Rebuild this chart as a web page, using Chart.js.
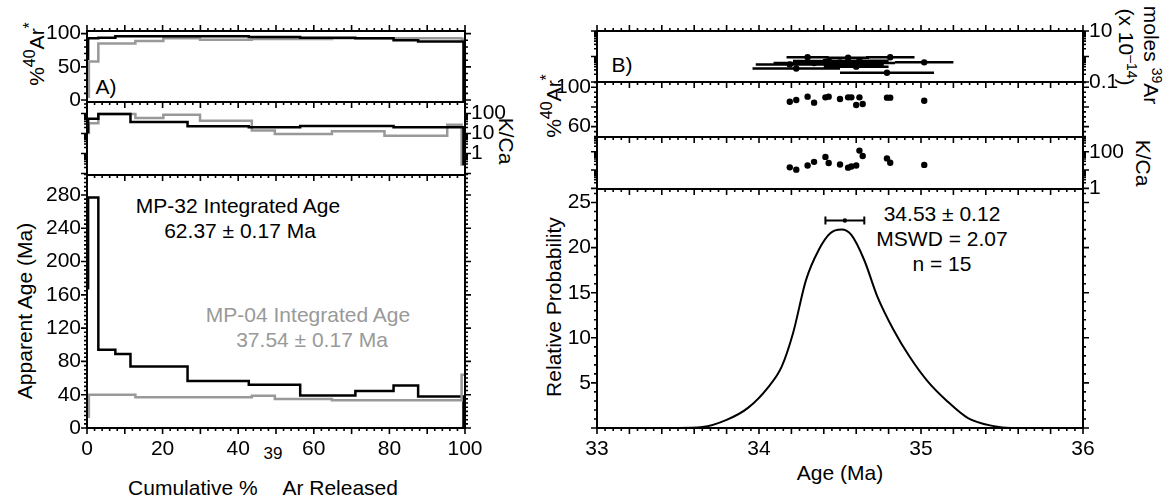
<!DOCTYPE html>
<html>
<head>
<meta charset="utf-8">
<title>40Ar/39Ar results</title>
<script src="https://cdn.jsdelivr.net/npm/chart.js@4.4.1/dist/chart.umd.min.js"></script>
<style>
  body { margin: 0; width: 1168px; height: 499px; background: #fff; position: relative; overflow: hidden;
         font-family: 'Liberation Sans', Arial, sans-serif; color: #000; }
  canvas { position: absolute; }
  .txt { position: absolute; white-space: nowrap; font-size: 21px; line-height: 1; transform: translate(-50%, -50%); }
  .up  { transform: translate(-50%, -50%) rotate(-90deg); }
  .dn  { transform: translate(-50%, -50%) rotate(90deg); }
  .sup { font-size: 16px; position: relative; top: -9px; }
  .sm  { font-size: 14px; position: relative; top: -8px; }
  .gray { color: #999; }
</style>
</head>
<body>

<!-- panel A titles / notes -->
<div class="txt up" style="left:36px;top:54px">%<span class="sup">40</span>Ar<span class="sup">*</span></div>
<div class="txt dn" style="left:506px;top:141px">K/Ca</div>
<div class="txt up" style="left:24px;top:311px">Apparent Age (Ma)</div>
<div class="txt" style="left:263px;top:487px">Cumulative % <span style="font-size:17px;position:relative;top:-36px">39</span>Ar Released</div>
<div class="txt" style="left:106px;top:86px">A)</div>
<div class="txt" style="left:238px;top:205px">MP-32 Integrated Age</div>
<div class="txt" style="left:240px;top:230px">62.37 ± 0.17 Ma</div>
<div class="txt gray" style="left:308px;top:314px">MP-04 Integrated Age</div>
<div class="txt gray" style="left:312px;top:339px">37.54 ± 0.17 Ma</div>

<!-- panel B titles / notes -->
<div class="txt" style="left:622px;top:64px">B)</div>
<div class="txt up" style="left:553px;top:106px">%<span class="sup">40</span>Ar<span class="sup">*</span></div>
<div class="txt dn" style="left:1151px;top:55px">moles <span class="sm">39</span>Ar</div>
<div class="txt dn" style="left:1126px;top:47px">(x 10<span class="sm">–14</span>)</div>
<div class="txt dn" style="left:1143px;top:163px">K/Ca</div>
<div class="txt up" style="left:553px;top:307px">Relative Probability</div>
<div class="txt" style="left:840px;top:472px">Age (Ma)</div>
<div class="txt" style="left:942px;top:213px">34.53 ± 0.12</div>
<div class="txt" style="left:942px;top:238px">MSWD = 2.07</div>
<div class="txt" style="left:942px;top:263px">n = 15</div>

<script>
// ═══════════════════════════════════════════
//  Step-heating spectra (A) and single-crystal ages (B)
// ═══════════════════════════════════════════

// ── A: MP-32 (black) — step edges in cumulative % 39Ar ──
const mp32Edges = [0, 0.3, 3.0, 7.5, 11.5, 26.6, 42.8, 56.4, 71.0, 81.1, 87.6, 99.6, 100];
const mp32Age   = [168, 277, 94, 89, 74, 56.5, 52, 39, 44.5, 51, 37.8, 0];
const mp32Rad   = [62, 93, 94, 96, 96, 96, 95, 94, 93, 90, 88, 0];
const mp32KCa   = [12, 55, 95, 95, 37.6, 23, 20.4, 23.7, 23.7, 20.4, 20.4, 0.3];

// ── A: MP-04 (grey) ──
const mp04Edges = [0, 0.5, 3.0, 12.8, 20.2, 29.9, 43.6, 49.7, 64.8, 78.7, 95.3, 99.1, 100];
const mp04Age   = [13.6, 40, 40, 36.8, 36.8, 36.8, 38.8, 34.8, 33.2, 33.2, 33.2, 64];
const mp04Rad   = [5, 58, 85, 89, 93, 91, 92, 92, 93, 93, 93, 92];
const mp04KCa   = [10.6, 33, 95, 60, 87, 44, 14, 9.4, 13, 7.8, 27.5, 0.28];

const cumLabels = [0, 20, 40, 60, 80, 100];
const radLabelsA = [0, 50, 100];
const kcaLabelsA = [1, 10, 100];
const ageLabels = [0, 40, 80, 120, 160, 200, 240, 280];

// ── B: single crystals ──
const xtlAge   = [34.19, 34.23, 34.30, 34.34, 34.41, 34.43, 34.50, 34.55, 34.57, 34.60, 34.62, 34.64, 34.79, 34.81, 35.02];
const xtlErr   = [0.21, 0.27, 0.13, 0.25, 0.20, 0.22, 0.25, 0.13, 0.20, 0.20, 0.18, 0.20, 0.29, 0.15, 0.18];
const xtlMoles = [0.49, 0.34, 0.93, 0.55, 0.62, 0.67, 0.58, 0.90, 0.50, 0.40, 0.68, 0.55, 0.23, 0.93, 0.59];
const xtlRad   = [85.4, 87.1, 90.5, 84.4, 89.8, 90.5, 88.1, 89.8, 89.8, 82.0, 89.8, 83.1, 89.5, 89.5, 86.4];
const xtlKCa   = [14, 10.5, 17.5, 28, 52, 24, 20, 13.5, 15.5, 17.5, 115, 58, 43, 25, 19];

// probability density curve
const probAge = [33.0, 33.5, 33.65, 33.80, 33.93, 34.06, 34.14, 34.21, 34.29, 34.37, 34.44, 34.51, 34.57,
                 34.65, 34.73, 34.83, 34.93, 35.04, 35.16, 35.29, 35.45, 35.55, 36.0];
const probVal = [0, 0, 0.1, 0.9, 2.2, 4.6, 6.8, 10.5, 16.4, 19.8, 21.6, 22.0, 21.4,
                 18.6, 14.6, 10.9, 7.9, 5.2, 3.0, 1.1, 0.2, 0, 0];

// weighted mean
const meanAge = [34.53];
const meanErr = [0.12];
const meanLevel = [23];

const ageLabelsB = [33, 34, 35, 36];
const molesLabels = [0.1, 1, 10];
const radLabelsB = [60, 100];
const kcaLabelsB = [1, 100];
const probLabels = [5, 10, 15, 20, 25];

const BLACK = '#000';
const GREY = '#999';

Chart.defaults.font.family = "'Liberation Sans', Arial, sans-serif";
Chart.defaults.font.size = 21;
Chart.defaults.color = BLACK;

// ── Helpers ───────────────────────────────
function stepPoints(edges, vals) {
  const pts = [];
  vals.forEach((v, i) => pts.push({ x: edges[i], y: v }, { x: edges[i + 1], y: v }));
  return pts;
}

function stepSet(edges, vals, color) {
  return {
    data: stepPoints(edges, vals), showLine: true, pointRadius: 0,
    borderColor: color, borderWidth: 2.5, borderJoinStyle: 'miter', tension: 0
  };
}

function linTicks(from, to, step, every) {
  const out = [];
  const n = Math.round((to - from) / step);
  for (let i = 0; i <= n; i++) out.push([from + i * step, i % every === 0 ? 6 : 3]);
  return out;
}

function logTicks(kFrom, kTo) {
  const out = [];
  for (let k = kFrom; k <= kTo; k++)
    for (let m = 1; m <= 9; m++) out.push([m * Math.pow(10, k), m === 1 ? 6 : 3]);
  return out;
}

// frame + Igor-style tick marks, drawn on top of everything
function framePlugin(p) {
  return {
    id: 'frame',
    afterDraw(chart) {
      const ctx = chart.ctx;
      const a = chart.chartArea;
      const sx = chart.scales.x, sy = chart.scales.y;
      ctx.save();
      ctx.strokeStyle = BLACK;
      ctx.lineWidth = 1.6;
      ctx.beginPath();
      for (const [v, len] of p.xTicks) {
        if (v < sx.min - 1e-9 || v > sx.max + 1e-9) continue;
        const px = sx.getPixelForValue(v);
        ctx.moveTo(px, a.top);
        ctx.lineTo(px, p.topOut ? a.top - len : a.top + len);
        if (p.bottomOut) { ctx.moveTo(px, a.bottom); ctx.lineTo(px, a.bottom + len); }
      }
      for (const [v, len] of p.yTicks) {
        if (v < sy.min || v > sy.max) continue;
        const py = sy.getPixelForValue(v);
        ctx.moveTo(a.left, py);  ctx.lineTo(a.left - len, py);
        ctx.moveTo(a.right, py); ctx.lineTo(a.right + len, py);
      }
      ctx.stroke();
      ctx.lineWidth = 2;
      ctx.strokeRect(a.left, a.top, a.right - a.left, a.bottom - a.top);
      ctx.restore();
    }
  };
}

// horizontal error bars (age ± err)
function xErrPlugin(e) {
  return {
    id: 'xerr',
    beforeDatasetsDraw(chart) {
      if (!e) return;
      const { ctx } = chart;
      const sx = chart.scales.x, sy = chart.scales.y;
      ctx.save();
      ctx.strokeStyle = BLACK;
      ctx.lineWidth = e.width;
      ctx.beginPath();
      e.x.forEach((x, i) => {
        const x0 = sx.getPixelForValue(x - e.err[i]);
        const x1 = sx.getPixelForValue(x + e.err[i]);
        const py = sy.getPixelForValue(e.y[i]);
        ctx.moveTo(x0, py); ctx.lineTo(x1, py);
        if (e.caps) {
          ctx.moveTo(x0, py - 4); ctx.lineTo(x0, py + 4);
          ctx.moveTo(x1, py - 4); ctx.lineTo(x1, py + 4);
        }
      });
      ctx.stroke();
      ctx.restore();
    }
  };
}

const PAD = { l: 80, r: 85, t: 20, b: 45 };

function makePanel(p) {
  const cv = document.createElement('canvas');
  const W = p.w + PAD.l + PAD.r, H = p.h + PAD.t + PAD.b;
  cv.width = W; cv.height = H;
  cv.style.cssText = `left:${p.l - PAD.l}px;top:${p.t - PAD.t}px;width:${W}px;height:${H}px`;
  document.body.appendChild(cv);

  const yAxis = (pos, labels) => ({
    type: p.yType, position: pos, min: p.yMin, max: p.yMax,
    grid: { display: false, drawTicks: false }, border: { display: false },
    ticks: { display: !!labels, padding: 6, callback: v => String(v) },
    afterBuildTicks: s => { s.ticks = (labels || []).map(v => ({ value: v })); },
    afterFit: s => { s.width = pos === 'left' ? PAD.l : PAD.r; }
  });

  return new Chart(cv, {
    type: 'scatter',
    data: { datasets: p.datasets },
    plugins: [xErrPlugin(p.xerr), framePlugin(p)],
    options: {
      responsive: false, animation: false, events: [],
      layout: { padding: { top: PAD.t } },
      plugins: { legend: { display: false }, tooltip: { enabled: false } },
      scales: {
        x: {
          type: 'linear', position: 'bottom', min: p.xMin, max: p.xMax,
          grid: { display: false, drawTicks: false }, border: { display: false },
          ticks: { display: !!p.xLabels, padding: 9, maxRotation: 0, callback: v => String(v) },
          afterBuildTicks: s => { s.ticks = (p.xLabels || []).map(v => ({ value: v })); },
          afterFit: s => { s.height = PAD.b; }
        },
        y: yAxis('left', p.leftLabels),
        y2: yAxis('right', p.rightLabels)
      }
    }
  });
}

// ── Panel A ───────────────────────────────
const A = { l: 87, w: 378, xMin: 0, xMax: 100, xTicks: linTicks(0, 100, 2, 5) };

makePanel({ ...A, t: 31, h: 71, topOut: true,
  yType: 'linear', yMin: -3, yMax: 104, leftLabels: radLabelsA, yTicks: linTicks(0, 100, 10, 5),
  datasets: [stepSet(mp32Edges, mp32Rad, BLACK), stepSet(mp04Edges, mp04Rad, GREY)] });

makePanel({ ...A, t: 102, h: 73,
  yType: 'logarithmic', yMin: 0.084, yMax: 376, rightLabels: kcaLabelsA, yTicks: logTicks(-2, 2),
  datasets: [stepSet(mp32Edges, mp32KCa, BLACK), stepSet(mp04Edges, mp04KCa, GREY)] });

makePanel({ ...A, t: 175, h: 253, bottomOut: true, xLabels: cumLabels,
  yType: 'linear', yMin: 0, yMax: 304, leftLabels: ageLabels, yTicks: linTicks(0, 300, 5, 8),
  datasets: [stepSet(mp04Edges, mp04Age, GREY), stepSet(mp32Edges, mp32Age, BLACK)] });

// ── Panel B ───────────────────────────────
const B = { l: 597, w: 486, xMin: 33, xMax: 36, xTicks: linTicks(33, 36, 0.05, 4) };
const xtlPoints = vals => ({
  data: xtlAge.map((x, i) => ({ x, y: vals[i] })),
  pointRadius: 3.2, pointBackgroundColor: BLACK, pointBorderWidth: 0, showLine: false
});

makePanel({ ...B, t: 31, h: 51, topOut: true,
  yType: 'logarithmic', yMin: 0.1, yMax: 10, rightLabels: molesLabels, yTicks: logTicks(-1, 1),
  xerr: { x: xtlAge, err: xtlErr, y: xtlMoles, width: 2.5, caps: false },
  datasets: [xtlPoints(xtlMoles)] });

makePanel({ ...B, t: 82, h: 55,
  yType: 'linear', yMin: 49.5, yMax: 105.4, leftLabels: radLabelsB, yTicks: linTicks(40, 105, 5, 4),
  datasets: [xtlPoints(xtlRad)] });

makePanel({ ...B, t: 137, h: 52,
  yType: 'logarithmic', yMin: 0.92, yMax: 636, rightLabels: kcaLabelsB, yTicks: logTicks(0, 2),
  datasets: [xtlPoints(xtlKCa)] });

makePanel({ ...B, t: 189, h: 239, bottomOut: true, xLabels: ageLabelsB,
  yType: 'linear', yMin: 0, yMax: 26.5, leftLabels: probLabels, yTicks: linTicks(0, 26, 1, 5),
  xerr: { x: meanAge, err: meanErr, y: meanLevel, width: 2, caps: true },
  datasets: [
    { data: probAge.map((x, i) => ({ x, y: probVal[i] })), showLine: true, pointRadius: 0,
      borderColor: BLACK, borderWidth: 2, cubicInterpolationMode: 'monotone' },
    { data: meanAge.map((x, i) => ({ x, y: meanLevel[i] })), pointRadius: 2.2,
      pointBackgroundColor: BLACK, pointBorderWidth: 0 }
  ] });
</script>
</body>
</html>
